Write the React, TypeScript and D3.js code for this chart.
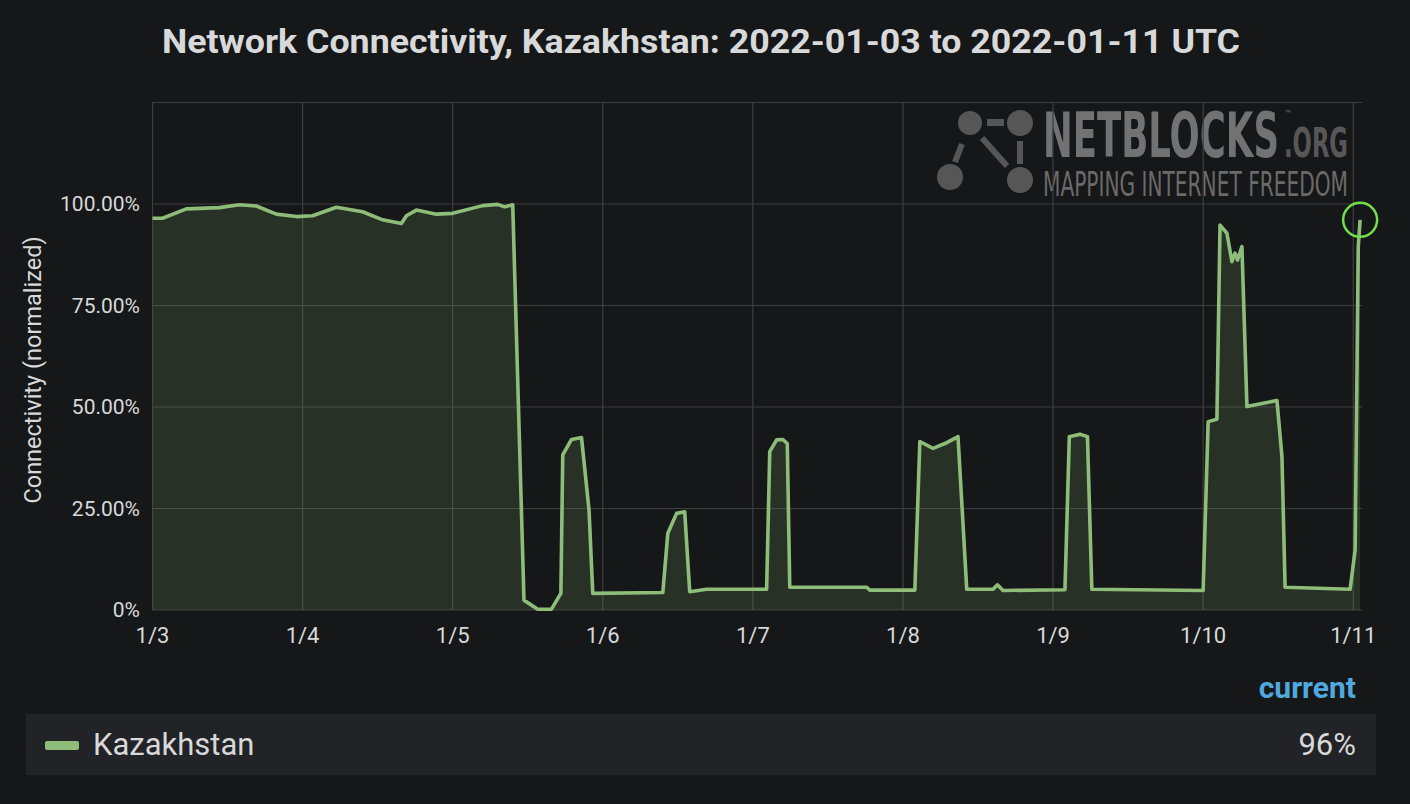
import React from "react";
import * as d3 from "d3";

const W = 1410;
const H = 804;

const titleText = "Network Connectivity, Kazakhstan: 2022-01-03 to 2022-01-11 UTC";
const seriesName = "Kazakhstan";
const currentLabel = "96%";
const startDate = "2022-01-03T00:00:00Z";
const endHours = 193.4;

// hours since 2022-01-03 00:00 UTC
const hours = [
  0, 1.6, 5.4, 10.7, 13.9, 16.6, 19.8, 23.0, 25.6, 29.4, 33.6, 36.8, 39.8, 40.6, 42.2, 45.4, 48.0,
  52.8, 55.2, 56.3, 57.6, 59.4, 59.8, 61.6, 63.8, 65.3, 65.6, 67.0, 68.6, 69.8, 70.4, 81.6, 82.4,
  83.8, 85.1, 85.9, 88.6, 98.2, 98.7, 99.8, 100.8, 101.5, 101.9, 111.0, 114.2, 114.7, 121.9, 122.7,
  124.8, 126.7, 128.8, 130.2, 134.4, 135.1, 136.0, 145.9, 146.6, 148.3, 149.5, 150.2, 168.0, 168.8,
  170.2, 170.7, 171.8, 172.6, 173.1, 173.5, 174.2, 175.0, 177.6, 179.8, 180.6, 181.1, 191.5, 192.3,
  192.8, 193.1,
];
// connectivity (normalized, %)
const values = [
  96.5, 96.5, 98.8, 99.1, 99.8, 99.5, 97.5, 96.9, 97.1, 99.2, 98.1, 96.1, 95.2, 97.1, 98.5, 97.5, 97.7,
  99.6, 99.9, 99.3, 99.8, 2.4, 2.0, 0.2, 0.2, 4.1, 38.2, 42.0, 42.5, 24.6, 4.1, 4.3, 18.9,
  23.8, 24.2, 4.5, 5.1, 5.1, 39.0, 41.9, 42.0, 41.0, 5.6, 5.6, 5.6, 4.9, 4.9, 41.5,
  39.8, 41.0, 42.7, 5.1, 5.1, 6.2, 4.8, 5.0, 42.7, 43.3, 42.7, 5.1, 4.8, 46.4,
  47.0, 94.8, 92.8, 85.8, 87.9, 86.2, 89.5, 50.1, 50.9, 51.6, 37.8, 5.6, 5.1, 14.8,
  89.5, 96.1,
];

const yTicks = [0, 25, 50, 75, 100];
const yGrid = [0, 25, 50, 75, 100, 125];

const FONT = "Roboto, 'Helvetica Neue', Arial, sans-serif";
const NARROW = "'Liberation Sans Narrow', 'DejaVu Sans Condensed', sans-serif";

export default function App() {
  const t0 = new Date(startDate).getTime();
  const toDate = (h: number) => new Date(t0 + h * 3600 * 1000);
  const data = hours.map((h, i) => ({ t: toDate(h), v: values[i] }));

  const left = 152.5;
  const right = 1362;
  const top = 102.5;
  const bottom = 610;

  const x = d3.scaleUtc().domain([toDate(0), toDate(endHours)]).range([left, right]);
  const y = d3.scaleLinear().domain([0, 125]).range([bottom, top]);

  const dayTicks = d3.utcDay.range(toDate(0), toDate(endHours));
  const fmt = d3.utcFormat("%-m/%-d");

  const line = d3
    .line<{ t: Date; v: number }>()
    .x((d) => x(d.t))
    .y((d) => y(d.v));
  const area = d3
    .area<{ t: Date; v: number }>()
    .x((d) => x(d.t))
    .y0(y(0))
    .y1((d) => y(d.v));

  const last = data[data.length - 1];
  const gridColor = "#3e3f42";
  const textColor = "#d8d9da";
  const wm = "#565656";

  return (
    <div style={{ position: "fixed", left: 0, top: 0, width: W, height: H, background: "#161719" }}>
      <svg width={W} height={H} style={{ display: "block" }} fontFamily={FONT}>
        <rect x={0} y={0} width={W} height={H} fill="#161719" />
        <text x={162} y={53} fontSize={33} fontWeight={700} fill={textColor}
          textLength={1078} lengthAdjust="spacingAndGlyphs">
          {titleText}
        </text>

        {/* watermark */}
        <g fill={wm} stroke="none">
          <circle cx={970} cy={123} r={12} />
          <circle cx={1020} cy={123} r={13} />
          <circle cx={950} cy={177} r={13} />
          <circle cx={1020} cy={180} r={13} />
          <rect x={987} y={119} width={17} height={7} />
          <line x1={962} y1={144} x2={955} y2={162} stroke={wm} strokeWidth={6} />
          <line x1={982} y1={138} x2={1007} y2={166} stroke={wm} strokeWidth={6} />
          <line x1={1020} y1={141} x2={1020} y2={164} stroke={wm} strokeWidth={6} />
        </g>
        <text x={1043} y={157} fontSize={62} fontWeight={700} fill="#727272"
          fontFamily={NARROW} textLength={236} lengthAdjust="spacingAndGlyphs">NETBLOCKS</text>
        <text x={1285} y={117} fontSize={10} fill="#6e6e6e">™</text>
        <text x={1284} y={157} fontSize={40} fontWeight={700} fill="#575757"
          fontFamily={NARROW} textLength={64} lengthAdjust="spacingAndGlyphs">.ORG</text>
        <text x={1043} y={196} fontSize={33} fontWeight={300} fill="#6a6a6a"
          fontFamily={NARROW} textLength={305} lengthAdjust="spacingAndGlyphs">MAPPING INTERNET FREEDOM</text>

        {/* grid */}
        {yGrid.map((v) => (
          <line key={"gy" + v} x1={left} x2={right} y1={y(v)} y2={y(v)} stroke={gridColor} strokeWidth={1.2} />
        ))}
        {dayTicks.map((d, i) => (
          <line key={"gx" + i} x1={x(d)} x2={x(d)} y1={top} y2={bottom} stroke={gridColor} strokeWidth={1.2} />
        ))}

        {/* series */}
        <path d={area(data) || ""} fill="#7eb26d" fillOpacity={0.17} />
        <path d={line(data) || ""} fill="none" stroke="#8dbd78" strokeWidth={3.6} strokeLinejoin="round" />
        <circle cx={x(last.t)} cy={y(last.v)} r={17} fill="none" stroke="#6fe04a" strokeWidth={2.5} />

        {/* y axis */}
        {yTicks.map((v) => (
          <text key={"yt" + v} x={140} y={y(v)} dy="0.35em" textAnchor="end" fontSize={21} fill={textColor}>
            {v === 0 ? "0%" : v.toFixed(2) + "%"}
          </text>
        ))}
        <text transform={`translate(41, 370) rotate(-90)`} textAnchor="middle" fontSize={23.5} fill={textColor}>
          Connectivity (normalized)
        </text>

        {/* x axis */}
        {dayTicks.map((d, i) => (
          <text key={"xt" + i} x={x(d)} y={643} textAnchor="middle" fontSize={22} fill={textColor}>
            {fmt(d)}
          </text>
        ))}

        {/* legend */}
        <text x={1356} y={698} textAnchor="end" fontSize={30} fontWeight={700} fill="#4fa9de">
          current
        </text>
        <rect x={26} y={714} width={1350} height={61} fill="#222326" />
        <rect x={45} y={741} width={34} height={9} rx={2} fill="#8dbd78" />
        <text x={93} y={755} fontSize={31} fill={textColor}>{seriesName}</text>
        <text x={1356} y={755} textAnchor="end" fontSize={31} fill={textColor}>{currentLabel}</text>
      </svg>
    </div>
  );
}
